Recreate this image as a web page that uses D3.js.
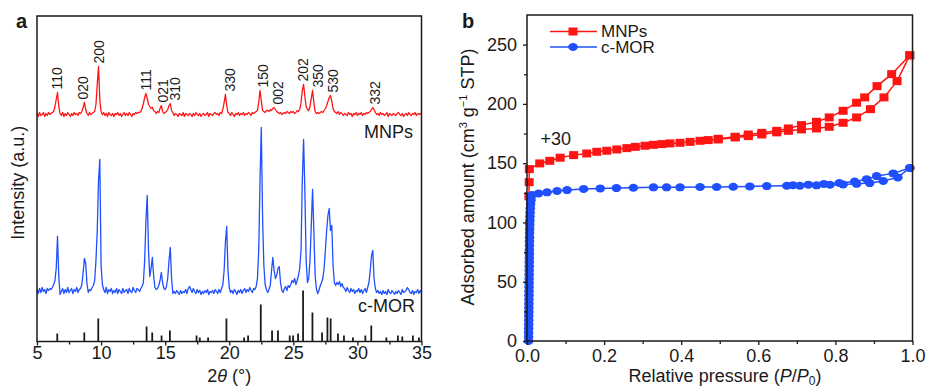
<!DOCTYPE html>
<html>
<head>
<meta charset="utf-8">
<script src="https://cdn.jsdelivr.net/npm/d3@7/dist/d3.min.js"></script>
<style>
  body { margin: 0; background: #fff; }
  svg { font-family: Arial, "Liberation Sans", Helvetica, sans-serif; }
</style>
</head>
<body>
<svg id="chart" width="926" height="388"></svg>
<script>
// ---------- panel a : XRD patterns (2theta from 5 to 35, step 0.1) ----------
const twoThetaStart = 5, twoThetaStep = 0.1;

const mnpsXrd = [
  1, -2, 2, -1, 0, 2, -2, 1, -1, 2,
  0, 1, 2, 3, 8, 15, 22, 8, 1, -1,
  2, -2, 1, -1, 2, 0, -2, 1, -1, 2,
  0, 1, -1, 2, 1, 3, 7, 12, 5, 1,
  -1, 2, 0, 1, 2, 3, 10, 30, 48, 15,
  3, 0, 2, -1, 1, -2, 2, 0, -1, 1,
  -2, 1, 0, 2, -1, 1, -2, 0, 2, -1,
  1, -1, 2, 0, -2, 1, 0, 2, 1, 2,
  2, 3, 6, 11, 17, 21, 16, 10, 8, 6,
  7, 4, 3, 1, 3, 2, 6, 9, 3, 1,
  2, 3, 5, 9, 11, 4, 2, -1, 1, 0,
  -2, 1, 0, -1, 2, -2, 1, 0, -1, 1,
  0, -2, 1, -1, 2, 0, -1, 1, -2, 0,
  1, -1, 0, 2, -2, 1, 0, -1, 1, 2,
  0, 1, -1, 2, 1, 5, 12, 20, 9, 2,
  1, -1, 2, 0, -2, 1, 0, 2, -1, 1,
  0, 2, -1, 1, 0, 2, 1, -1, 2, 1,
  2, 3, 4, 12, 24, 14, 4, 3, 2, 4,
  4, 3, 5, 4, 6, 7, 5, 3, 2, 1,
  2, 0, 1, 2, 1, 3, 2, 1, 3, 2,
  3, 1, 2, 4, 3, 5, 12, 24, 30, 18,
  8, 5, 4, 8, 16, 24, 12, 3, 1, 2,
  1, 2, 3, 2, 4, 6, 9, 13, 17, 19,
  13, 6, 3, 2, 1, 3, 0, 2, 1, -1,
  1, 0, -1, 2, 0, 1, -2, 1, 0, 2,
  -1, 1, 0, 2, -1, 1, 0, 2, 1, 2,
  3, 5, 7, 5, 2, 0, 1, -1, 2, 0,
  1, -1, 0, 2, -2, 1, 0, -1, 1, 0,
  -1, 1, 2, 0, -1, 1, -2, 0, 1, -1,
  2, 0, -1, 1, 0, 2, -1, 1, 0, 1,
  0
];

const cmorXrd = [
  1, -3, 2, -2, 3, -1, 1, -3, 2, 0,
  2, 1, 3, 6, 10, 22, 54, 14, -4, -1,
  2, -3, 1, -2, 3, -2, 0, 2, -3, 1,
  -1, 3, -2, 1, 2, 6, 18, 32, 27, 7,
  -2, 1, 0, 3, 5, 10, 30, 60, 110, 131,
  25, 6, 1, -2, 3, -3, 1, -1, 2, -3,
  0, -2, 2, -3, 1, -1, -3, 2, -2, 0,
  1, -3, 2, -1, -2, 3, 0, -2, 2, 1,
  -1, 2, 4, 8, 30, 70, 95, 40, 14, 22,
  33, 15, 3, 1, 2, 5, 10, 18, 8, 2,
  1, 4, 12, 30, 43, 12, -3, -1, -3, 0,
  -2, -4, 0, -3, -1, -2, 1, -3, 2, 4,
  1, -2, 2, -1, -3, 1, -2, 0, -4, -1,
  -3, 0, -2, 1, -4, -1, -2, 0, -3, 1,
  -1, -3, 1, -2, 2, 6, 20, 48, 64, 20,
  3, -2, 0, -3, 1, -1, -4, 0, -2, 1,
  -3, 0, 2, -2, 1, -1, 3, 0, -2, 2,
  1, 4, 12, 40, 110, 163, 73, 25, 6, 1,
  -2, 1, 5, 20, 33, 20, 12, 15, 22, 24,
  8, 0, -2, 2, 4, 0, 5, 3, 6, 10,
  8, 12, 6, 10, 15, 22, 40, 110, 151, 100,
  30, 8, 12, 30, 65, 101, 60, 15, 2, -3,
  0, 5, 8, 12, 22, 40, 60, 75, 82, 60,
  65, 25, 8, 5, 8, 6, 9, 4, 7, 3,
  2, -1, 3, 0, -2, 2, -1, 1, -3, 0,
  -1, 2, -2, 1, -3, 0, 2, -2, 3, 8,
  20, 35, 40, 12, 2, -2, 0, -3, -1, -4,
  0, -3, -1, -4, 1, -2, -3, 0, -2, -4,
  -1, -3, 0, -2, -4, 1, -2, -1, 0, 3,
  1, -2, -3, 0, -4, -1, -2, 1, -3, 0,
  -2
];

// vertical stacking offsets of the two patterns (a.u.)
const mnpsShift = 227, cmorShift = 51;

// reference (standard) pattern sticks
const refAngle = [6.58, 8.69, 9.78, 13.55, 13.99, 14.72, 15.37, 17.45, 17.7, 18.35, 19.78, 21.16, 21.47,
  22.46, 23.34, 23.8, 24.72, 24.98, 25.37, 25.76, 26.49, 27.24, 27.66, 27.91, 28.48, 28.95, 29.65,
  30.62, 31.08, 32.26, 33.16, 33.5, 34.33, 34.8];
const refHeight = [8, 9, 23, 15, 9, 6, 11, 6, 4, 4, 23, 4, 6,
  37, 11, 11, 6, 6, 8, 51, 29, 9, 24, 23, 8, 6, 4,
  6, 16, 4, 6, 5, 6, 4];

// hkl labels of the MNPs peaks
const hklLabels = ['110', '020', '200', '111', '021', '310', '330', '150', '002', '202', '350', '530', '332'];
const hklAngle = [6.6, 8.61, 9.83, 13.48, 14.8, 15.76, 20.05, 22.65, 23.82, 25.77, 26.94, 28.1, 31.36];

const xrdTicks = [5, 10, 15, 20, 25, 30, 35];

// ---------- panel b : N2 isotherms ----------
// (the low-pressure part of MNPs lies hidden behind the c-MOR rise)
const mnpsAdsP = [0.005, 0.0055, 0.006, 0.033, 0.059, 0.086, 0.121,
  0.155, 0.181, 0.207, 0.233, 0.259, 0.281, 0.306, 0.328, 0.35, 0.371, 0.397, 0.423, 0.449, 0.47, 0.496,
  0.54, 0.574, 0.609, 0.648, 0.678, 0.712, 0.751, 0.784, 0.82, 0.855, 0.891, 0.926, 0.96, 0.993];
const mnpsAdsV = [122, 134, 145, 149.8, 152, 154.6, 156.8,
  158.2, 159.6, 160.5, 161.6, 162.7, 163.8, 164.7, 165.5, 166.1, 166.7, 167.2, 168, 168.9, 169.5, 170,
  171.7, 172.8, 174.2, 176, 177.3, 178.5, 179.3, 180.7, 184.1, 188.6, 195.6, 205.5, 219.2, 241];
const mnpsDesP = [0.993, 0.946, 0.908, 0.876, 0.855, 0.82, 0.784, 0.751, 0.712, 0.678, 0.648, 0.609, 0.574, 0.54, 0.496];
const mnpsDesV = [241, 225.1, 215, 205.5, 201, 194.2, 188.6, 184.9, 182.1, 179.3, 177.3, 175.6, 174.2, 172.3, 170.6];

const cmorAdsP = [0.004, 0.0041, 0.0042, 0.0043, 0.0044, 0.0045, 0.0046, 0.0047, 0.0048, 0.0049, 0.005, 0.0051,
  0.0052, 0.0053, 0.0054, 0.0055, 0.0056, 0.0057, 0.0058, 0.0059, 0.006, 0.0061, 0.0062, 0.0063,
  0.0064, 0.0065, 0.0067, 0.0069, 0.0071, 0.0074, 0.0077, 0.0081, 0.0086, 0.0093, 0.0105,
  0.013, 0.03, 0.052, 0.078, 0.104, 0.147, 0.19, 0.232, 0.276, 0.328, 0.362, 0.397, 0.449, 0.492,
  0.535, 0.578, 0.622, 0.674, 0.708, 0.751, 0.786, 0.82, 0.855, 0.889, 0.924, 0.962, 0.993];
const cmorAdsV = [0, 3.5, 7, 10.5, 14, 17.5, 21, 24.5, 28, 31.5, 35, 38.5,
  42, 45.5, 49, 52.5, 56, 59.5, 63, 66.5, 70, 73.5, 77, 80.5,
  84, 87.5, 91, 94.5, 98, 101.5, 105, 108.5, 112, 115.5, 119,
  123.1, 124.5, 125.4, 126.5, 127.3, 128.2, 128.7, 129, 129.3, 129.6, 129.6, 129.6, 129.9, 129.9,
  130.1, 130.4, 130.7, 131, 131, 131.3, 131.8, 132.1, 132.6, 133.2, 135, 138, 146];
const cmorDesP = [0.993, 0.95, 0.907, 0.881, 0.85, 0.81, 0.77, 0.73, 0.69];
const cmorDesV = [146, 141.4, 139.1, 136.5, 134.5, 133.3, 132.5, 131.9, 131.4];

const pTicks = [0, 0.2, 0.4, 0.6, 0.8, 1.0];
const vTicks = [0, 50, 100, 150, 200, 250];

const RED = '#ff1414', BLUE = '#1f4fff', INK = '#1a1a1a';

const svg = d3.select('#chart');

// ================= panel a =================
const A = { left: 37, right: 421.5, top: 16, bottom: 341.5 };
const xA = d3.scaleLinear().domain([5, 35]).range([A.left, A.right]);
const yA = d3.scaleLinear().domain([0, A.bottom - A.top]).range([A.bottom, A.top]);
const gA = svg.append('g');

const angleAt = i => twoThetaStart + i * twoThetaStep;

function xrdLine(vals, shift) {
  return d3.line()
    .x((d, i) => xA(angleAt(i)))
    .y(d => yA(shift + d))(vals);
}

gA.append('path').attr('d', xrdLine(mnpsXrd, mnpsShift))
  .attr('fill', 'none').attr('stroke', RED).attr('stroke-width', 1.3).attr('stroke-linejoin', 'round');
gA.append('path').attr('d', xrdLine(cmorXrd, cmorShift))
  .attr('fill', 'none').attr('stroke', BLUE).attr('stroke-width', 1.3).attr('stroke-linejoin', 'round');

gA.selectAll('line.ref').data(refAngle).enter().append('line')
  .attr('class', 'ref')
  .attr('x1', d => xA(d)).attr('x2', d => xA(d))
  .attr('y1', yA(0)).attr('y2', (d, i) => yA(refHeight[i]))
  .attr('stroke', INK).attr('stroke-width', 1.8);

// hkl labels sit just above the local maximum of the MNPs pattern
gA.selectAll('text.hkl').data(hklLabels).enter().append('text')
  .attr('class', 'hkl')
  .attr('transform', (d, i) => {
    const a = hklAngle[i];
    const near = mnpsXrd.filter((v, j) => Math.abs(angleAt(j) - a) <= 0.5);
    const y = yA(mnpsShift + d3.max(near)) - 3;
    return `translate(${xA(a)},${y}) rotate(-90)`;
  })
  .attr('dy', '0.35em')
  .style('font-size', '14px').attr('fill', INK)
  .text(d => d);

gA.append('text').attr('x', 413).attr('y', 137.5).attr('text-anchor', 'end')
  .style('font-size', '18px').attr('fill', INK).text('MNPs');
gA.append('text').attr('x', 415).attr('y', 311.5).attr('text-anchor', 'end')
  .style('font-size', '18px').attr('fill', INK).text('c-MOR');

// axes of panel a
const axA = gA.append('g').attr('transform', `translate(0,${A.bottom})`)
  .call(d3.axisBottom(xA).tickValues(xrdTicks).tickSize(4).tickPadding(1).tickFormat(d3.format('d')));
const axAm = gA.append('g').attr('transform', `translate(0,${A.bottom})`)
  .call(d3.axisBottom(xA).tickValues(d3.range(7.5, 35, 5)).tickSize(3).tickFormat(''));
[axA, axAm].forEach(g => {
  g.select('.domain').remove();
  g.selectAll('line').attr('stroke', INK).attr('stroke-width', 1.3);
  g.selectAll('text').style('font-size', '18px').attr('fill', INK).attr('font-family', null);
});

gA.append('rect').attr('x', A.left).attr('y', A.top)
  .attr('width', A.right - A.left).attr('height', A.bottom - A.top)
  .attr('fill', 'none').attr('stroke', INK).attr('stroke-width', 1.5);

const xlabA = gA.append('text').attr('x', (A.left + A.right) / 2).attr('y', 382)
  .attr('text-anchor', 'middle').style('font-size', '18px').attr('fill', INK);
xlabA.append('tspan').text('2');
xlabA.append('tspan').style('font-style', 'italic').text('θ');
xlabA.append('tspan').text(' (°)');

gA.append('text').attr('transform', `translate(24,${(A.top + A.bottom) / 2 + 4}) rotate(-90)`)
  .attr('text-anchor', 'middle').style('font-size', '18px').attr('fill', INK).text('Intensity (a.u.)');

svg.append('text').attr('x', 16).attr('y', 27.5).style('font-size', '20px').style('font-weight', 'bold')
  .attr('fill', INK).text('a');

// ================= panel b =================
const B = { left: 527, right: 912.5, top: 15, bottom: 341 };
const xB = d3.scaleLinear().domain([0, 1]).range([B.left, B.right]);
const yB = d3.scaleLinear().domain([0, 275]).range([B.bottom, B.top]);
const gB = svg.append('g');

const zip = (ps, vs) => ps.map((p, i) => [p, vs[i]]);
const isoLine = d3.line().x(d => xB(d[0])).y(d => yB(d[1]));

function drawIsotherm(branches, color, marker) {
  const g = gB.append('g');
  branches.forEach(pts => {
    g.append('path').attr('d', isoLine(pts)).attr('fill', 'none')
      .attr('stroke', color).attr('stroke-width', 1.5);
  });
  branches.forEach(pts => {
    const sel = g.selectAll(null).data(pts).enter();
    if (marker === 'square') {
      sel.append('rect').attr('x', d => xB(d[0]) - 4.5).attr('y', d => yB(d[1]) - 4)
        .attr('width', 9).attr('height', 8).attr('fill', color);
    } else {
      sel.append('ellipse').attr('cx', d => xB(d[0])).attr('cy', d => yB(d[1]))
        .attr('rx', 4.8).attr('ry', 4).attr('fill', color);
    }
  });
}

drawIsotherm([zip(mnpsAdsP, mnpsAdsV), zip(mnpsDesP, mnpsDesV)], RED, 'square');
drawIsotherm([zip(cmorAdsP, cmorAdsV), zip(cmorDesP, cmorDesV)], BLUE, 'circle');

gB.append('text').attr('x', xB(0.035)).attr('y', yB(165)).style('font-size', '18px')
  .attr('fill', INK).text('+30');

// legend
const legend = [{ name: 'MNPs', color: RED, marker: 'square' }, { name: 'c-MOR', color: BLUE, marker: 'circle' }];
const lg = gB.selectAll('g.leg').data(legend).enter().append('g')
  .attr('class', 'leg').attr('transform', (d, i) => `translate(550,${31.5 + i * 15.5})`);
lg.append('line').attr('x1', 0).attr('x2', 47).attr('stroke', d => d.color).attr('stroke-width', 1.5);
lg.each(function (d) {
  const g = d3.select(this);
  if (d.marker === 'square') g.append('rect').attr('x', 18.5).attr('y', -4).attr('width', 9).attr('height', 8).attr('fill', d.color);
  else g.append('ellipse').attr('cx', 23).attr('rx', 4.8).attr('ry', 4).attr('fill', d.color);
});
lg.append('text').attr('x', 51).attr('dy', '0.35em').style('font-size', '17px').attr('fill', INK).text(d => d.name);

// axes of panel b
const axBx = gB.append('g').attr('transform', `translate(0,${B.bottom})`)
  .call(d3.axisBottom(xB).tickValues(pTicks).tickSize(4).tickPadding(4).tickFormat(d3.format('.1f')));
const axBxm = gB.append('g').attr('transform', `translate(0,${B.bottom})`)
  .call(d3.axisBottom(xB).tickValues(d3.range(0.1, 1, 0.2)).tickSize(3).tickFormat(''));
const axBy = gB.append('g').attr('transform', `translate(${B.left},0)`)
  .call(d3.axisLeft(yB).tickValues(vTicks).tickSize(4).tickPadding(6));
const axBym = gB.append('g').attr('transform', `translate(${B.left},0)`)
  .call(d3.axisLeft(yB).tickValues(d3.range(25, 275, 50)).tickSize(3).tickFormat(''));
[axBx, axBxm, axBy, axBym].forEach(g => {
  g.select('.domain').remove();
  g.selectAll('line').attr('stroke', INK).attr('stroke-width', 1.3);
  g.selectAll('text').style('font-size', '18px').attr('fill', INK).attr('font-family', null);
});

gB.append('rect').attr('x', B.left).attr('y', B.top)
  .attr('width', B.right - B.left).attr('height', B.bottom - B.top)
  .attr('fill', 'none').attr('stroke', INK).attr('stroke-width', 1.5);

const xlabB = gB.append('text').attr('x', 725).attr('y', 382)
  .attr('text-anchor', 'middle').style('font-size', '18px').attr('fill', INK);
xlabB.append('tspan').text('Relative pressure (');
xlabB.append('tspan').style('font-style', 'italic').text('P');
xlabB.append('tspan').text('/');
xlabB.append('tspan').style('font-style', 'italic').text('P');
xlabB.append('tspan').attr('dy', 3).style('font-size', '12px').text('0');
xlabB.append('tspan').attr('dy', -3).text(')');

const ylabB = gB.append('text').attr('transform', `translate(474,177) rotate(-90)`)
  .attr('text-anchor', 'middle').style('font-size', '18px').attr('fill', INK);
ylabB.append('tspan').text('Adsorbed amount (cm');
ylabB.append('tspan').attr('dy', -7).style('font-size', '11px').text('3');
ylabB.append('tspan').attr('dy', 7).text(' g');
ylabB.append('tspan').attr('dy', -7).style('font-size', '11px').text('−1');
ylabB.append('tspan').attr('dy', 7).text(' STP)');

svg.append('text').attr('x', 462).attr('y', 28).style('font-size', '20px').style('font-weight', 'bold')
  .attr('fill', INK).text('b');
</script>
</body>
</html>
